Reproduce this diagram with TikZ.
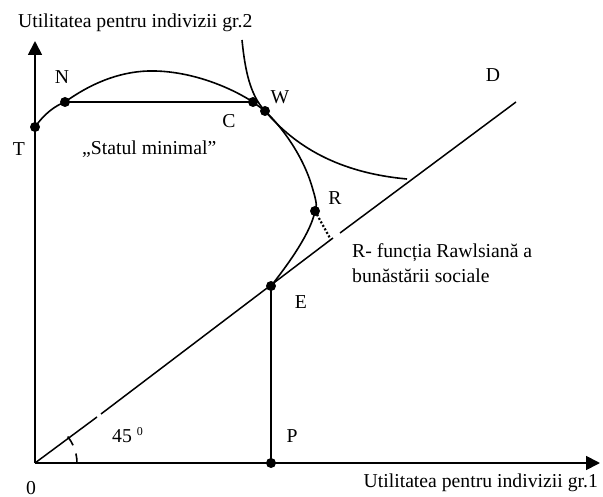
\documentclass[tikz,border=0pt]{standalone}
\usepackage{fontspec}
\setmainfont{Liberation Serif}
\usetikzlibrary{arrows.meta}
\begin{document}
\begin{tikzpicture}[x=1pt,y=-1pt,
  axisline/.style={line width=1.8pt,-{Triangle[length=14pt,width=14pt]}},
  curveline/.style={line width=1.6pt},
  thinline/.style={line width=1.5pt},
  dotpt/.style={circle,fill=black,inner sep=0pt,minimum size=10pt},
  lbl/.style={inner sep=0pt,font=\fontsize{19.7}{23}\selectfont}]
\useasboundingbox (0,0) rectangle (603,497);
% key points
\coordinate (O) at (35,463);
\coordinate (Ytop) at (35,41);
\coordinate (Xend) at (600,463);
\coordinate (T) at (35,127);
\coordinate (N) at (65,102);
\coordinate (C) at (253,102);
\coordinate (W) at (265,111);
\coordinate (R) at (315,211);
\coordinate (E) at (271,286);
\coordinate (P) at (271,463);
\coordinate (Dend) at (516,102);
\coordinate (Rfoot) at (331,240);
\coordinate (g1a) at (97,417);
\coordinate (g1b) at (101,414);
\coordinate (g2a) at (333,238);
\coordinate (g2b) at (340,233);
% axes
\draw[axisline] (O) -- (Ytop);
\draw[axisline] (O) -- (Xend);
% 0D line with small gaps
\draw[thinline] (O) -- (g1a);
\draw[thinline] (g1b) -- (g2a);
\draw[thinline] (g2b) -- (Dend);
% angle marks
\draw[line width=1.6pt] (O) ++(0:42) arc[start angle=0,end angle=-13,radius=42];
\draw[line width=1.6pt] (O) ++(-25:42) arc[start angle=-25,end angle=-39,radius=42];
% utility frontier
\draw[curveline] (T) .. controls (45,113) and (55,106) .. (N)
  .. controls (90,84) and (118,72) .. (148,71)
  .. controls (185,70) and (225,84) .. (C)
  -- (W)
  .. controls (285,130) and (305,160) .. (313,190)
  .. controls (317,203) and (317,208) .. (R)
  .. controls (311,232) and (290,262) .. (E);
% social indifference curve
\draw[curveline] (242,40) .. controls (245,70) and (250,95) .. (W)
  .. controls (290,140) and (330,172) .. (407,179);
% N-C segment
\draw[line width=2.6pt] (N) -- (C);
% E-P
\draw[thinline] (E) -- (P);
% dotted from R
\draw[line width=2.2pt,dash pattern=on 2pt off 2pt] (R) -- (Rfoot);
% dots
\foreach \p in {T,N,C,W,R,E,P} \node[dotpt] (d\p) at (\p) {};
% labels
\node[lbl,anchor=base west] (ylab) at (18,28) {Utilitatea pentru indivizii gr.2};
\node[lbl,anchor=base east] (xlab) at (598,487) {Utilitatea pentru indivizii gr.1};
\node[lbl] (lN) at (62,77) {N};
\node[lbl] (lT) at (19,149) {T};
\node[lbl] (lC) at (229,121) {C};
\node[lbl] (lW) at (280,97) {W};
\node[lbl] (lR) at (335,198) {R};
\node[lbl] (lE) at (301,302) {E};
\node[lbl] (lD) at (493,75) {D};
\node[lbl] (lP) at (292,436) {P};
\node[lbl,anchor=base] (lO) at (31,494) {0};
\node[lbl,anchor=base west] (lang) at (112,442) {45 \raisebox{7pt}{\fontsize{12}{12}\selectfont 0}};
\node[lbl,anchor=base west] (lstat) at (82,155) {„Statul minimal”};
\node[lbl,anchor=base west] (lrawl1) at (352,258) {R- funcția Rawlsiană a};
\node[lbl,anchor=base west] (lrawl2) at (352,283) {bunăstării sociale};
\end{tikzpicture}
\end{document}
